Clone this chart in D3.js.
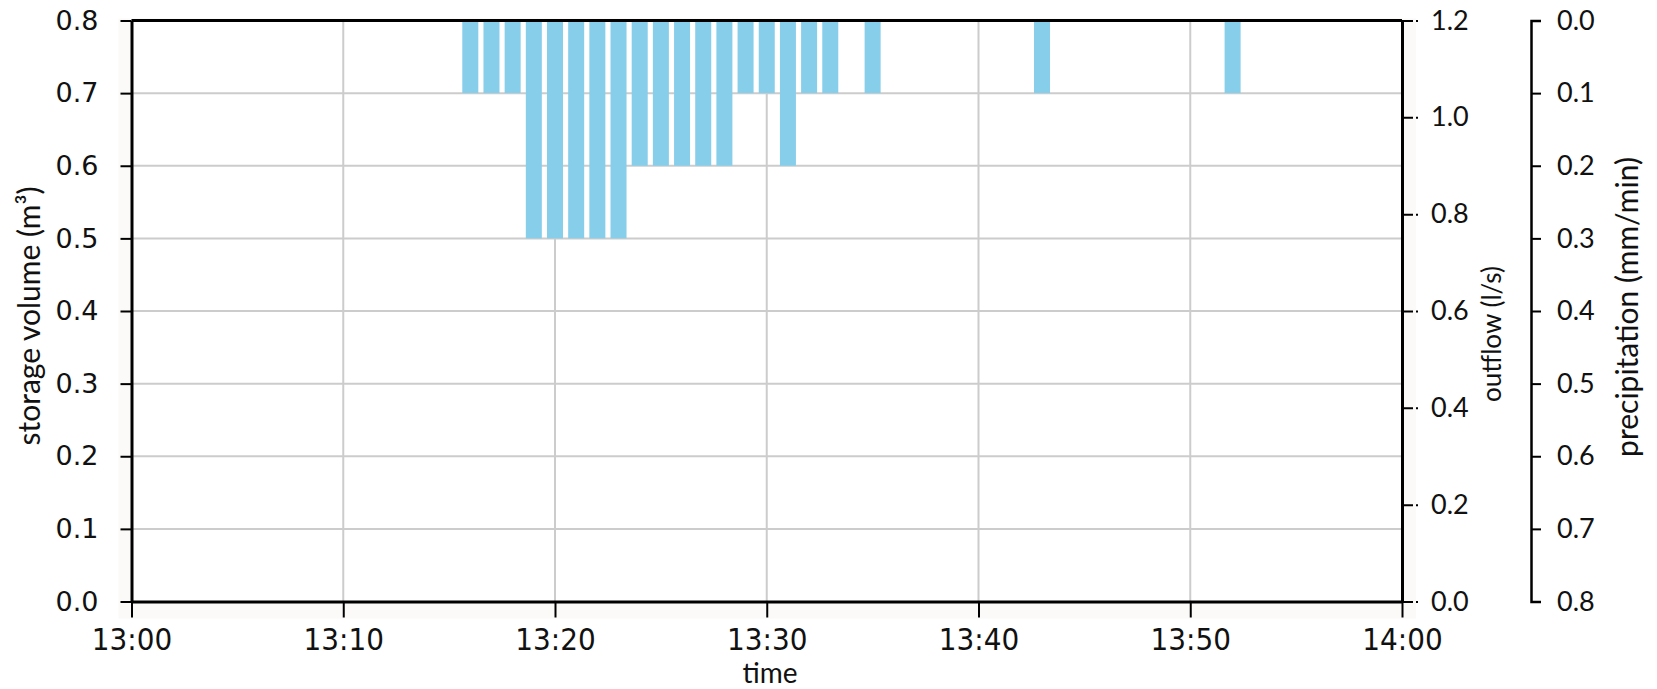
<!DOCTYPE html>
<html>
<head>
<meta charset="utf-8">
<script src="https://cdn.jsdelivr.net/npm/d3@7"></script>
<style>
  html, body { margin: 0; padding: 0; background: #ffffff; }
  svg { display: block; }
</style>
</head>
<body>
<svg id="chart" width="1657" height="689"></svg>
<script>
// Precipitation per minute after 13:00 (mm/min)
const precipMinutes = [16, 17, 18, 19, 20, 21, 22, 23, 24, 25, 26, 27, 28, 29, 30, 31, 32, 33, 35, 43, 52];
const precipValues  = [0.1, 0.1, 0.1, 0.3, 0.3, 0.3, 0.3, 0.3, 0.2, 0.2, 0.2, 0.2, 0.2, 0.1, 0.1, 0.2, 0.1, 0.1, 0.1, 0.1, 0.1];

// Axis tick values
const storageTicks = [0.0, 0.1, 0.2, 0.3, 0.4, 0.5, 0.6, 0.7, 0.8];
const outflowTicks = [0.0, 0.2, 0.4, 0.6, 0.8, 1.0, 1.2];
const precipTicks  = [0.0, 0.1, 0.2, 0.3, 0.4, 0.5, 0.6, 0.7, 0.8];
const timeTickMinutes = [0, 10, 20, 30, 40, 50, 60];

// Axis titles
const storageTitle = "storage volume (m³)";
const outflowTitle = "outflow (l/s)";
const precipTitle  = "precipitation (mm/min)";
const timeTitle    = "time";

const base = new Date(2020, 0, 1, 13, 0).getTime();
const atMinute = m => new Date(base + m * 60000);

// Layout
const L = 131.5, R = 1402, T = 20.5, B = 601.5, PX = 1531;
const barHalfMinutes = 0.378;

const svg = d3.select("#chart");

const x  = d3.scaleTime().domain([atMinute(0), atMinute(60)]).range([L, R]);
const yS = d3.scaleLinear().domain([0, 0.8]).range([B, T]);
const yO = d3.scaleLinear().domain([0, 1.2]).range([B, T]);
const yP = d3.scaleLinear().domain([0, 0.8]).range([T, B]);

// faint backdrop around the plot frame
svg.append("rect")
  .attr("x", L - 13).attr("y", T - 2)
  .attr("width", (R + 14) - (L - 13)).attr("height", (B + 17) - (T - 2))
  .attr("fill", "#fbfaf8");
svg.append("rect")
  .attr("x", L).attr("y", T).attr("width", R - L).attr("height", B - T)
  .attr("fill", "#ffffff");

// grid
const grid = svg.append("g").attr("stroke", "#cccccc").attr("stroke-width", 2);
grid.selectAll("line.v")
  .data(timeTickMinutes.slice(1, -1))
  .join("line")
  .attr("x1", d => x(atMinute(d))).attr("x2", d => x(atMinute(d)))
  .attr("y1", T).attr("y2", B);
grid.selectAll("line.h")
  .data(storageTicks.slice(1, -1))
  .join("line")
  .attr("x1", L).attr("x2", R)
  .attr("y1", d => yS(d)).attr("y2", d => yS(d));

// precipitation bars hanging from the top
const bars = precipMinutes.map((m, i) => ({ m, v: precipValues[i] }));
svg.append("g").selectAll("rect")
  .data(bars)
  .join("rect")
  .attr("fill", "#87ceeb")
  .attr("x", d => x(atMinute(d.m - barHalfMinutes)))
  .attr("width", d => x(atMinute(d.m + barHalfMinutes)) - x(atMinute(d.m - barHalfMinutes)))
  .attr("y", yP(0) + 1)
  .attr("height", d => yP(d.v) - yP(0) - 1);

// top frame line
svg.append("line")
  .attr("x1", L).attr("x2", R).attr("y1", T).attr("y2", T)
  .attr("stroke", "#000").attr("stroke-width", 3);

function styleAxis(g, family, size, width) {
  g.select(".domain").attr("stroke", "#000").attr("stroke-width", width);
  g.selectAll(".tick line").attr("stroke", "#000").attr("stroke-width", 2);
  g.selectAll(".tick text")
    .attr("fill", "#111")
    .style("font-family", family)
    .style("font-size", size + "px");
}

// left: storage volume
const gS = svg.append("g").attr("transform", `translate(${L},0)`)
  .call(d3.axisLeft(yS).tickValues(storageTicks).tickSize(11).tickSizeOuter(0)
    .tickPadding(22).tickFormat(d3.format(".1f")));
styleAxis(gS, "'DejaVu Sans'", 27, 3);

// bottom: time
const gX = svg.append("g").attr("transform", `translate(0,${B})`)
  .call(d3.axisBottom(x).tickValues(timeTickMinutes.map(atMinute)).tickSize(16).tickSizeOuter(0)
    .tickPadding(10).tickFormat(d3.timeFormat("%H:%M")));
styleAxis(gX, "'DejaVu Sans Condensed', 'DejaVu Sans'", 31, 3);
gX.selectAll(".tick text").style("font-stretch", "condensed");

// right: outflow
const gO = svg.append("g").attr("transform", `translate(${R},0)`)
  .call(d3.axisRight(yO).tickValues(outflowTicks).tickSize(16).tickSizeOuter(0)
    .tickPadding(13).tickFormat(d3.format(".1f")));
styleAxis(gO, "Lato", 27, 3);
gO.selectAll(".tick line").attr("stroke-dasharray", "11,3,2");

// far right: precipitation (reversed)
const gP = svg.append("g").attr("transform", `translate(${PX},0)`)
  .call(d3.axisRight(yP).tickValues(precipTicks).tickSize(10).tickSizeOuter(10)
    .tickPadding(16).tickFormat(d3.format(".1f")));
styleAxis(gP, "Lato", 27, 2.5);

// axis titles
function title(txt, tx, ty, rot, size) {
  svg.append("text")
    .attr("transform", `translate(${tx},${ty}) rotate(${rot})`)
    .attr("text-anchor", "middle")
    .attr("fill", "#111")
    .style("font-family", "Lato")
    .style("font-size", size + "px")
    .text(txt);
}
title(storageTitle, 40, 316, -90, 30);
title(outflowTitle, 1501, 334, -90, 26);
title(precipTitle, 1638, 307, -90, 30);
title(timeTitle, 770, 683, 0, 28);
</script>
</body>
</html>
